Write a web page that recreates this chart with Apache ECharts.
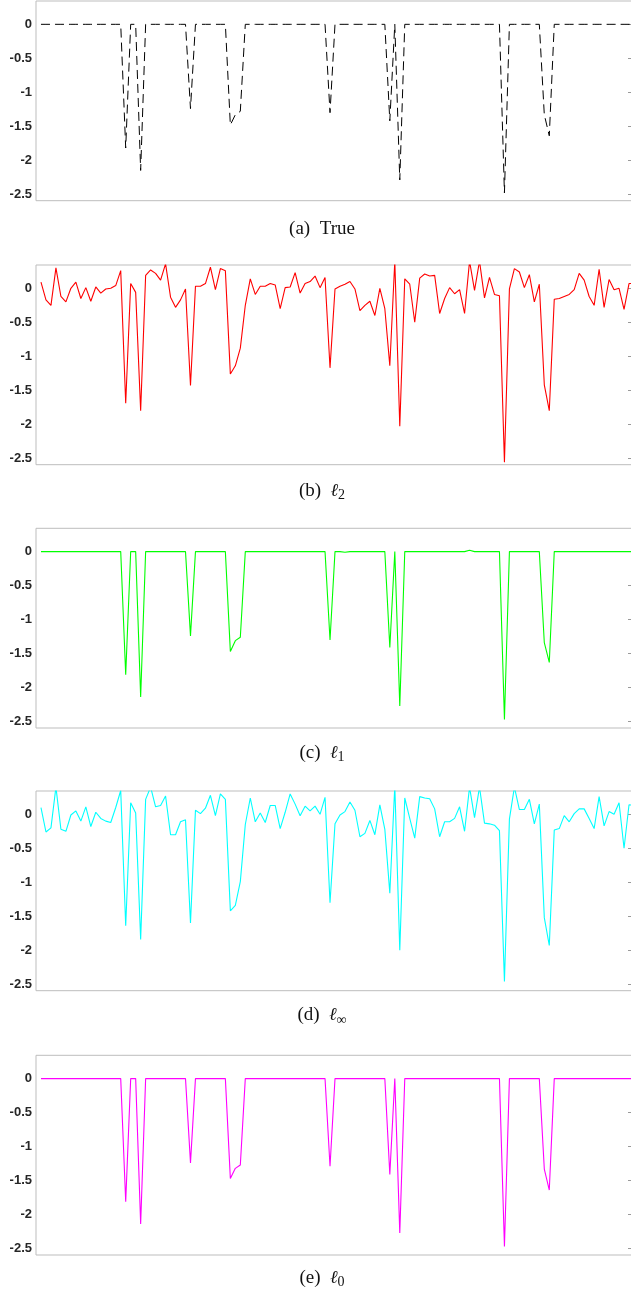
<!DOCTYPE html>
<html>
<head>
<meta charset="utf-8">
<script src="https://cdn.jsdelivr.net/npm/echarts@6/dist/echarts.min.js"></script>
<style>
html,body{margin:0;padding:0;background:#fff;}
#chart{width:631px;height:1296px;}
</style>
</head>
<body>
<div id="chart"></div>
<script>
// ---- data (sample index 1..120) ----
const trueVals = [
  0,0,0,0,0,0,0,0,0,0,
  0,0,0,0,0,0,0,-1.82,0,0,
  -2.15,0,0,0,0,0,0,0,0,0,
  -1.24,0,0,0,0,0,0,0,-1.48,-1.33,
  -1.28,0,0,0,0,0,0,0,0,0,
  0,0,0,0,0,0,0,0,-1.30,0,
  0,0,0,0,0,0,0,0,0,0,
  -1.42,0,-2.29,0,0,0,0,0,0,0,
  0,0,0,0,0,0,0,0,0,0,
  0,0,0,-2.48,0,0,0,0,0,0,
  0,-1.33,-1.64,0,0,0,0,0,0,0,
  0,0,0,0,0,0,0,0,0,0
];
const l2Vals = [
  0.09,-0.17,-0.25,0.30,-0.12,-0.20,0.00,0.09,-0.15,0.01,
  -0.19,0.02,-0.07,-0.01,0.00,0.04,0.26,-1.69,0.07,-0.06,
  -1.80,0.19,0.27,0.22,0.12,0.36,-0.13,-0.28,-0.17,-0.01,
  -1.43,0.03,0.03,0.07,0.31,-0.02,0.29,0.26,-1.26,-1.14,
  -0.88,-0.25,0.14,-0.09,0.03,0.03,0.07,0.05,-0.30,0.01,
  0.02,0.23,-0.07,0.07,0.10,0.18,0.01,0.16,-1.17,-0.01,
  0.03,0.06,0.10,-0.01,-0.33,-0.25,-0.19,-0.40,0.00,-0.30,
  -1.14,0.40,-2.03,0.14,0.06,-0.50,0.15,0.21,0.18,0.19,
  -0.37,-0.15,0.01,-0.08,-0.02,-0.37,0.40,-0.03,0.40,-0.14,
  0.16,-0.09,-0.11,-2.56,-0.01,0.29,0.24,0.01,0.20,-0.20,
  0.06,-1.42,-1.80,-0.16,-0.15,-0.12,-0.09,-0.02,0.22,0.12,
  -0.12,-0.25,0.28,-0.28,0.13,-0.02,0.00,-0.31,0.07,0.07
];
const l1Vals = [
  0,0,0,0,0,0,0,0,0,0,
  0,0,0,0,0,0,0,-1.81,0,0,
  -2.14,0,0,0,0,0,0,0,0,0,
  -1.24,0,0,0,0,0,0,0,-1.47,-1.31,
  -1.26,0,0,0,0,0,0,0,0,0,
  0,0,0,0,0,0,0,0,-1.30,0,
  0,-0.01,0,0,0,0,0,0,0,0,
  -1.41,0,-2.27,0,0,0,0,0,0,0,
  0,0,0,0,0,0,0.02,0,0,0,
  0,0,0,-2.47,0,0,0,0,0,0,
  0,-1.34,-1.63,0,0,0,0,0,0,0,
  0,0,0,0,0,0,0,0,0,0
];
const linfVals = [
  0.10,-0.26,-0.20,0.40,-0.22,-0.25,-0.01,0.05,-0.10,0.11,
  -0.18,0.03,-0.06,-0.10,-0.12,0.10,0.35,-1.64,0.17,0.02,
  -1.84,0.22,0.40,0.11,0.13,0.27,-0.30,-0.30,-0.11,-0.08,
  -1.60,0.06,0.01,0.09,0.28,-0.02,0.30,0.22,-1.42,-1.34,
  -0.99,-0.15,0.24,-0.11,0.02,-0.12,0.13,0.13,-0.21,0.03,
  0.30,0.15,-0.02,0.12,0.05,0.12,0.00,0.25,-1.30,-0.14,
  -0.01,0.04,0.18,0.06,-0.33,-0.28,-0.09,-0.30,0.14,-0.22,
  -1.16,0.42,-2.00,0.24,-0.06,-0.35,0.26,0.24,0.23,0.08,
  -0.33,-0.11,-0.11,-0.06,0.11,-0.25,0.40,-0.05,0.40,-0.13,
  -0.14,-0.16,-0.24,-2.46,-0.07,0.40,0.07,0.07,0.22,-0.14,
  0.15,-1.52,-1.93,-0.23,-0.21,-0.02,-0.11,0.01,0.08,0.08,
  -0.06,-0.21,0.26,-0.17,0.04,0.00,0.17,-0.50,0.14,0.13
];
const l0Vals = [
  0,0,0,0,0,0,0,0,0,0,
  0,0,0,0,0,0,0,-1.81,0,0,
  -2.14,0,0,0,0,0,0,0,0,0,
  -1.24,0,0,0,0,0,0,0,-1.47,-1.32,
  -1.27,0,0,0,0,0,0,0,0,0,
  0,0,0,0,0,0,0,0,-1.29,0,
  0,0,0,0,0,0,0,0,0,0,
  -1.41,0,-2.27,0,0,0,0,0,0,0,
  0,0,0,0,0,0,0,0,0,0,
  0,0,0,-2.47,0,0,0,0,0,0,
  0,-1.33,-1.64,0,0,0,0,0,0,0,
  0,0,0,0,0,0,0,0,0,0
];
const tickVals = [0, -0.5, -1, -1.5, -2, -2.5];
const tickLabels = ['0', '-0.5', '-1', '-1.5', '-2', '-2.5'];
const captionTags = ['(a)', '(b)', '(c)', '(d)', '(e)'];
const captionNames = ['True', 'ℓ', 'ℓ', 'ℓ', 'ℓ'];
const captionSubs = ['', '2', '1', '∞', '0'];

// ---- layout / styles ----
const Y_MIN = -2.595, Y_MAX = 0.343, X_MAX = 120;
const panelTops = [1, 265, 528.3, 791, 1055.3];
const panelH = 199.7;
const captionY = [229, 491, 753, 1015.5, 1278];
const seriesList = [trueVals, l2Vals, l1Vals, linfVals, l0Vals];
const colors = ['#000000', '#ff0000', '#00ff00', '#00ffff', '#ff00ff'];

const grids = [], xAxes = [], yAxes = [], series = [], graphics = [];
seriesList.forEach((vals, k) => {
  grids.push({left: 36, width: 598, top: panelTops[k], height: panelH,
    outerBoundsMode: 'none', containLabel: false,
    show: true, borderColor: '#bdbdbd', borderWidth: 1, backgroundColor: '#fff'});
  xAxes.push({type: 'value', gridIndex: k, min: 0, max: X_MAX, show: false});
  yAxes.push({type: 'value', gridIndex: k, min: Y_MIN, max: Y_MAX, position: 'left',
    axisLine: {show: false}, axisTick: {show: false}, splitLine: {show: false},
    axisLabel: {show: true, customValues: tickVals, margin: 4,
      formatter: v => tickLabels[tickVals.indexOf(Math.round(v * 10) / 10)] ?? String(v),
      color: '#262626', fontFamily: 'Liberation Sans', fontWeight: 'bold', fontSize: 13}});
  yAxes.push({type: 'value', gridIndex: k, min: Y_MIN, max: Y_MAX, position: 'right',
    axisLine: {show: false}, splitLine: {show: false}, axisLabel: {show: false},
    axisTick: {show: true, inside: true, length: 6, customValues: tickVals,
      lineStyle: {color: '#9a9a9a', width: 1}}});
  series.push({type: 'line', xAxisIndex: k, yAxisIndex: 2 * k,
    data: vals.map((v, i) => [i + 1, v]), symbol: 'none', clip: true,
    lineStyle: {color: colors[k], width: k === 0 ? 1 : 1.1, type: k === 0 ? [9, 5] : 'solid'},
    animation: false});
  const sub = captionSubs[k];
  graphics.push({type: 'text', x: 322, y: captionY[k],
    style: {
      text: sub ? `{t|${captionTags[k]}  }{l|${captionNames[k]}}{s|${sub}}` : `{t|${captionTags[k]}  ${captionNames[k]}}`,
      align: 'center', verticalAlign: 'middle',
      rich: {
        t: {fontFamily: 'Liberation Serif', fontSize: 19, fill: '#111'},
        l: {fontFamily: 'DejaVu Serif', fontStyle: 'italic', fontSize: 18, fill: '#111'},
        s: {fontFamily: 'Liberation Serif', fontSize: 14, fill: '#111', padding: [9, 0, 0, 0]}
      }
    }});
});

const chart = echarts.init(document.getElementById('chart'), null, {renderer: 'canvas'});
chart.setOption({
  animation: false,
  backgroundColor: '#fff',
  grid: grids, xAxis: xAxes, yAxis: yAxes, series: series, graphic: graphics
});
</script>
</body>
</html>
